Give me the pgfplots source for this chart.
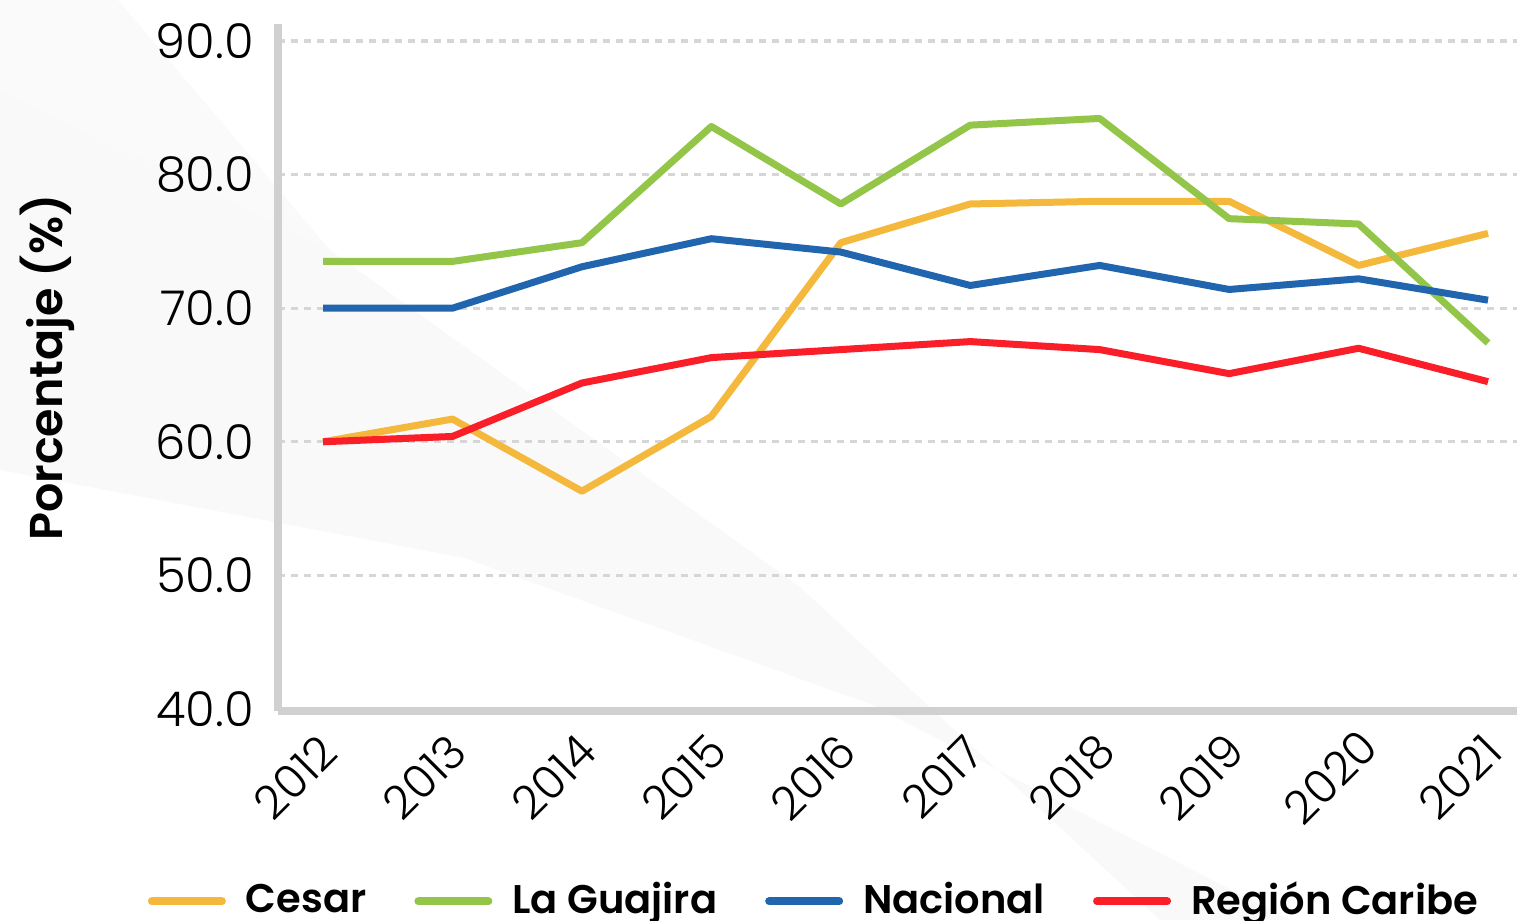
\documentclass[border=0pt]{standalone}
\usepackage{fontspec}
\setmainfont{Poppins}[UprightFont=* Light, BoldFont=* SemiBold]
\usepackage{pgfplots}
\pgfplotsset{compat=1.18}
\definecolor{cesar}{HTML}{F4B83C}
\definecolor{guajira}{HTML}{93C648}
\definecolor{nacional}{HTML}{2165AF}
\definecolor{caribe}{HTML}{FA1E28}
\definecolor{axgray}{HTML}{D0D0D0}
\definecolor{gridgray}{HTML}{D6D6D6}
\begin{document}
\begin{tikzpicture}
% faint decorative background swoosh
\fill[black!2] (-69.5pt,177.75pt) -- (-40pt,177.75pt) -- (13pt,115.25pt) -- (-69.5pt,155.25pt) -- cycle;
\fill[black!2.5] (-69.5pt,155.25pt) -- (-69.5pt,60.25pt) -- (46.5pt,38.25pt) -- (148pt,1.75pt) -- (253pt,-52.25pt) -- (220.5pt,-52.25pt) -- (130.5pt,31pt) -- (13pt,115.25pt) -- cycle;
\begin{axis}[
  scale only axis,
  width=309.75pt, height=171.75pt,
  xmin=2011.652, xmax=2021.224,
  ymin=39.85, ymax=91.27,
  axis lines*=left,
  axis line style={axgray, line width=2pt},
  separate axis lines,
  x axis line style={-}, y axis line style={-},
  xtick={2012,...,2021},
  ytick={40,50,...,90},
  xticklabel={\pgfmathprintnumber[1000 sep=]{\tick}},
  tick style={draw=none},
  yticklabel={\pgfmathprintnumber[fixed,fixed zerofill,precision=1]{\tick}},
  /pgf/number format/assume math mode=true,
  ymajorgrids,
  grid style={gridgray, line width=0.8pt, dash pattern=on 1.75pt off 1.5pt},
  tick label style={font=\fontsize{12}{14}\selectfont},
  yticklabel style={anchor=east, xshift=-2.5pt},
  xticklabel style={font=\fontsize{11.5}{14}\selectfont, xshift=-7pt, yshift=-16.5pt, rotate=45, anchor=center},
  ylabel={\textbf{Porcentaje (\%)}},
  ylabel style={at={(axis description cs:-0.1865,0.5)}, anchor=center, font=\fontsize{11.5}{14}\selectfont},
  legend columns=-1,
  legend style={draw=none, fill=none, at={(0.435,-0.277)}, anchor=center,
    font=\bfseries\fontsize{10}{12}\selectfont,
    /tikz/every odd column/.append style={column sep=3pt},
    /tikz/every even column/.append style={column sep=10pt}},
  legend image code/.code={\draw[#1, line width=2pt, line cap=round] (0pt,0pt) -- (17.5pt,0pt);},
  every axis plot/.append style={line width=1.75pt, line join=round},
]
\addplot[cesar] coordinates {(2012,60.0) (2013,61.7) (2014,56.3) (2015,61.9) (2016,74.9) (2017,77.8) (2018,78.0) (2019,78.0) (2020,73.2) (2021,75.6)};
\addlegendentry{Cesar}
\addplot[guajira] coordinates {(2012,73.5) (2013,73.5) (2014,74.9) (2015,83.6) (2016,77.8) (2017,83.7) (2018,84.2) (2019,76.7) (2020,76.3) (2021,67.4)};
\addlegendentry{La Guajira}
\addplot[nacional] coordinates {(2012,70.0) (2013,70.0) (2014,73.1) (2015,75.2) (2016,74.2) (2017,71.7) (2018,73.2) (2019,71.4) (2020,72.2) (2021,70.6)};
\addlegendentry{Nacional}
\addplot[caribe] coordinates {(2012,60.0) (2013,60.4) (2014,64.4) (2015,66.3) (2016,66.9) (2017,67.5) (2018,66.9) (2019,65.1) (2020,67.0) (2021,64.5)};
\addlegendentry{Región Caribe}
\coordinate (SW) at (rel axis cs:0,0);
\coordinate (NE) at (rel axis cs:1,1);
\end{axis}
\pgfresetboundingbox
\useasboundingbox ([xshift=-69.5pt,yshift=-52.25pt]SW) rectangle ([yshift=6pt]NE);
\end{tikzpicture}
\end{document}
